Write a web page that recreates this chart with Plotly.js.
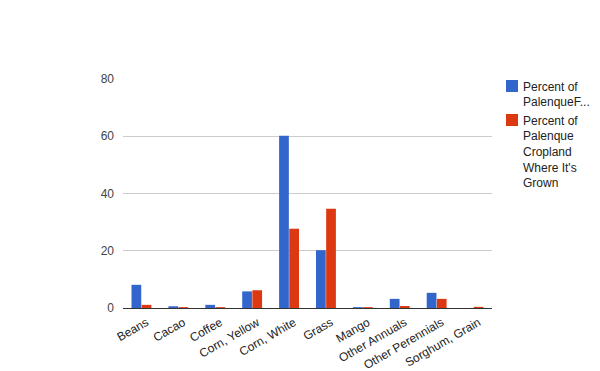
<!DOCTYPE html>
<html>
<head>
<meta charset="utf-8">
<script src="https://cdn.plot.ly/plotly-3.0.1.min.js"></script>
<style>html,body{margin:0;padding:0;background:#fff;}#chart{width:600px;height:371px;}</style>
</head>
<body>
<div id="chart"></div>
<script>
const categories = ["Beans", "Cacao", "Coffee", "Corn, Yellow", "Corn, White", "Grass", "Mango", "Other Annuals", "Other Perennials", "Sorghum, Grain"];
const percentOfFarms = [8.1, 0.6, 1.1, 5.8, 60.2, 20.2, 0.3, 3.2, 5.3, 0];
const percentOfCropland = [1.1, 0.3, 0.3, 6.2, 27.7, 34.7, 0.3, 0.7, 3.2, 0.4];
const seriesNames = ["Percent of<br>PalenqueF...", "Percent of<br>Palenque<br>Cropland<br>Where It's<br>Grown"];
const colors = ["#3366cc", "#dc3912"];

const traces = [percentOfFarms, percentOfCropland].map((vals, i) => ({
  type: "bar",
  x: categories,
  y: vals,
  name: seriesNames[i],
  marker: {color: colors[i]},
  hoverinfo: "x+y"
}));

const layout = {
  width: 600, height: 371,
  margin: {l: 123, r: 107, t: 79, b: 63},
  paper_bgcolor: "#fff", plot_bgcolor: "#fff",
  font: {family: "Arial, 'Liberation Sans', sans-serif", size: 12, color: "#222"},
  barmode: "group",
  bargap: 0.45,
  bargroupgap: 0.04,
  showlegend: true,
  legend: {xref: "container", yref: "container", x: 0.82, y: 0.807, xanchor: "left", yanchor: "top", valign: "top",
           font: {size: 12, color: "#222"}, tracegroupgap: 4, itemwidth: 30},
  xaxis: {
    tickangle: -30, showgrid: false, showline: true, linecolor: "#333", linewidth: 1,
    ticks: "", tickfont: {size: 12, color: "#222"}, automargin: false,
    ticklabelshift: 5, ticklabelstandoff: 2
  },
  yaxis: {
    range: [0, 80], tickvals: [0, 20, 40, 60, 80], showgrid: true, gridcolor: "#cccccc",
    zeroline: false, showline: false, ticks: "", tickfont: {size: 12, color: "#444"},
    ticklabelstandoff: 8, automargin: false
  }
};

Plotly.newPlot("chart", traces, layout, {displayModeBar: false, staticPlot: true}).then(gd => {
  // tighten gap between legend swatch and its text, as in the reference
  gd.querySelectorAll(".legend .legendtext").forEach(t => {
    const x = parseFloat(t.getAttribute("x")) || 0;
    t.setAttribute("x", x - 9);
    t.querySelectorAll("tspan.line").forEach(s => {
      const sx = s.getAttribute("x");
      if (sx !== null) s.setAttribute("x", parseFloat(sx) - 9);
    });
  });
});
</script>
</body>
</html>
